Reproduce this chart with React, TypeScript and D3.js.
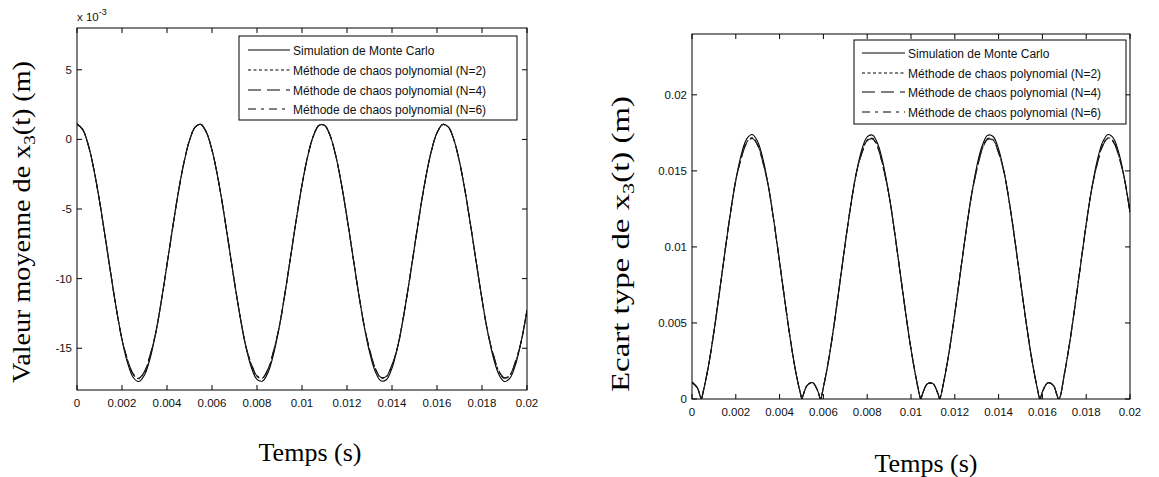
import React from "react";
import * as d3 from "d3";

// ---------- DATA ----------
// time grid for the mean plot (ms)
const timeMean: number[] = [
  0, 0.25, 0.5, 0.75, 1, 1.25, 1.5, 1.75, 2, 2.25,
  2.5, 2.75, 3, 3.25, 3.5, 3.75, 4, 4.25, 4.5, 4.75,
  5, 5.25, 5.5, 5.75, 6, 6.25, 6.5, 6.75, 7, 7.25,
  7.5, 7.75, 8, 8.25, 8.5, 8.75, 9, 9.25, 9.5, 9.75,
  10, 10.25, 10.5, 10.75, 11, 11.25, 11.5, 11.75, 12, 12.25,
  12.5, 12.75, 13, 13.25, 13.5, 13.75, 14, 14.25, 14.5, 14.75,
  15, 15.25, 15.5, 15.75, 16, 16.25, 16.5, 16.75, 17, 17.25,
  17.5, 17.75, 18, 18.25, 18.5, 18.75, 19, 19.25, 19.5, 19.75,
  20,
];
// mean of x3(t), units 1e-3 m
const meanMC: number[] = [
  1.10, 0.72, -0.40, -2.16, -4.41, -6.98, -9.64, -12.18, -14.38, -16.07,
  -17.10, -17.39, -16.92, -15.72, -13.89, -11.59, -9.00, -6.35, -3.84, -1.69,
  -0.07, 0.88, 1.08, 0.51, -0.77, -2.66, -5.01, -7.62, -10.27, -12.74,
  -14.84, -16.38, -17.24, -17.35, -16.70, -15.33, -13.38, -10.99, -8.36, -5.72,
  -3.28, -1.24, 0.22, 1.00, 1.01, 0.27, -1.17, -3.19, -5.62, -8.26,
  -10.89, -13.29, -15.27, -16.65, -17.34, -17.26, -16.43, -14.91, -12.84, -10.37,
  -7.72, -5.11, -2.75, -0.83, 0.47, 1.07, 0.90, -0.02, -1.61, -3.74,
  -6.24, -8.89, -11.49, -13.81, -15.66, -16.89, -17.39, -17.13, -16.13, -14.46,
  -12.27,
];
const meanN2: number[] = [
  1.10, 0.72, -0.40, -2.16, -4.41, -6.98, -9.64, -12.18, -14.38, -15.88,
  -16.90, -17.18, -16.72, -15.53, -13.89, -11.59, -9.00, -6.35, -3.84, -1.69,
  -0.07, 0.88, 1.08, 0.51, -0.77, -2.66, -5.01, -7.62, -10.27, -12.74,
  -14.84, -16.18, -17.03, -17.14, -16.50, -15.15, -13.38, -10.99, -8.36, -5.72,
  -3.28, -1.24, 0.22, 1.00, 1.01, 0.27, -1.17, -3.19, -5.62, -8.26,
  -10.89, -13.29, -15.09, -16.45, -17.13, -17.05, -16.23, -14.91, -12.84, -10.37,
  -7.72, -5.11, -2.75, -0.83, 0.47, 1.07, 0.90, -0.02, -1.61, -3.74,
  -6.24, -8.89, -11.49, -13.81, -15.47, -16.69, -17.18, -16.92, -15.94, -14.46,
  -12.27,
];
const meanN4: number[] = [
  1.10, 0.72, -0.40, -2.16, -4.41, -6.98, -9.64, -12.18, -14.38, -15.83,
  -16.84, -17.13, -16.67, -15.48, -13.89, -11.59, -9.00, -6.35, -3.84, -1.69,
  -0.07, 0.88, 1.08, 0.51, -0.77, -2.66, -5.01, -7.62, -10.27, -12.74,
  -14.84, -16.13, -16.98, -17.09, -16.45, -15.10, -13.38, -10.99, -8.36, -5.72,
  -3.28, -1.24, 0.22, 1.00, 1.01, 0.27, -1.17, -3.19, -5.62, -8.26,
  -10.89, -13.29, -15.04, -16.40, -17.08, -17.00, -16.18, -14.91, -12.84, -10.37,
  -7.72, -5.11, -2.75, -0.83, 0.47, 1.07, 0.90, -0.02, -1.61, -3.74,
  -6.24, -8.89, -11.49, -13.81, -15.43, -16.64, -17.13, -16.87, -15.89, -14.46,
  -12.27,
];
const meanN6: number[] = [
  1.10, 0.72, -0.40, -2.16, -4.41, -6.98, -9.64, -12.18, -14.38, -15.85,
  -16.86, -17.15, -16.69, -15.50, -13.89, -11.59, -9.00, -6.35, -3.84, -1.69,
  -0.07, 0.88, 1.08, 0.51, -0.77, -2.66, -5.01, -7.62, -10.27, -12.74,
  -14.84, -16.15, -17.00, -17.11, -16.47, -15.12, -13.38, -10.99, -8.36, -5.72,
  -3.28, -1.24, 0.22, 1.00, 1.01, 0.27, -1.17, -3.19, -5.62, -8.26,
  -10.89, -13.29, -15.06, -16.42, -17.10, -17.02, -16.20, -14.91, -12.84, -10.37,
  -7.72, -5.11, -2.75, -0.83, 0.47, 1.07, 0.90, -0.02, -1.61, -3.74,
  -6.24, -8.89, -11.49, -13.81, -15.44, -16.66, -17.15, -16.89, -15.91, -14.46,
  -12.27,
];

// time grid for the standard deviation plot (ms)
const timeStd: number[] = [
  0, 0.25, 0.426, 0.5, 0.75, 1, 1.25, 1.5, 1.75, 2,
  2.25, 2.5, 2.75, 3, 3.25, 3.5, 3.75, 4, 4.25, 4.5,
  4.75, 5, 5.013, 5.25, 5.5, 5.75, 5.867, 6, 6.25, 6.5,
  6.75, 7, 7.25, 7.5, 7.75, 8, 8.25, 8.5, 8.75, 9,
  9.25, 9.5, 9.75, 10, 10.25, 10.453, 10.5, 10.75, 11, 11.25,
  11.307, 11.5, 11.75, 12, 12.25, 12.5, 12.75, 13, 13.25, 13.5,
  13.75, 14, 14.25, 14.5, 14.75, 15, 15.25, 15.5, 15.75, 15.893,
  16, 16.25, 16.5, 16.75, 17, 17.25, 17.5, 17.75, 18, 18.25,
  18.5, 18.75, 19, 19.25, 19.5, 19.75, 20,
];
// standard deviation of x3(t), units 1e-3 m
const stdMC: number[] = [
  1.10, 0.72, 0, 0.40, 2.16, 4.41, 6.98, 9.64, 12.18, 14.38,
  16.07, 17.10, 17.39, 16.92, 15.72, 13.89, 11.59, 9.00, 6.35, 3.84,
  1.69, 0.07, 0, 0.88, 1.08, 0.51, 0, 0.77, 2.66, 5.01,
  7.62, 10.27, 12.74, 14.84, 16.38, 17.24, 17.35, 16.70, 15.33, 13.38,
  10.99, 8.36, 5.72, 3.28, 1.24, 0, 0.22, 1.00, 1.01, 0.27,
  0, 1.17, 3.19, 5.62, 8.26, 10.89, 13.29, 15.27, 16.65, 17.34,
  17.26, 16.43, 14.91, 12.84, 10.37, 7.72, 5.11, 2.75, 0.83, 0,
  0.47, 1.07, 0.90, 0, 1.61, 3.74, 6.24, 8.89, 11.49, 13.81,
  15.66, 16.89, 17.39, 17.13, 16.13, 14.46, 12.27,
];
const stdN2: number[] = [
  1.10, 0.72, 0, 0.40, 2.16, 4.41, 6.98, 9.64, 12.18, 14.38,
  15.88, 16.90, 17.18, 16.72, 15.53, 13.89, 11.59, 9.00, 6.35, 3.84,
  1.69, 0.07, 0, 0.88, 1.08, 0.51, 0, 0.77, 2.66, 5.01,
  7.62, 10.27, 12.74, 14.84, 16.18, 17.03, 17.14, 16.50, 15.15, 13.38,
  10.99, 8.36, 5.72, 3.28, 1.24, 0, 0.22, 1.00, 1.01, 0.27,
  0, 1.17, 3.19, 5.62, 8.26, 10.89, 13.29, 15.09, 16.45, 17.13,
  17.05, 16.23, 14.91, 12.84, 10.37, 7.72, 5.11, 2.75, 0.83, 0,
  0.47, 1.07, 0.90, 0, 1.61, 3.74, 6.24, 8.89, 11.49, 13.81,
  15.47, 16.69, 17.18, 16.92, 15.94, 14.46, 12.27,
];
const stdN4: number[] = [
  1.10, 0.72, 0, 0.40, 2.16, 4.41, 6.98, 9.64, 12.18, 14.38,
  15.83, 16.84, 17.13, 16.67, 15.48, 13.89, 11.59, 9.00, 6.35, 3.84,
  1.69, 0.07, 0, 0.88, 1.08, 0.51, 0, 0.77, 2.66, 5.01,
  7.62, 10.27, 12.74, 14.84, 16.13, 16.98, 17.09, 16.45, 15.10, 13.38,
  10.99, 8.36, 5.72, 3.28, 1.24, 0, 0.22, 1.00, 1.01, 0.27,
  0, 1.17, 3.19, 5.62, 8.26, 10.89, 13.29, 15.04, 16.40, 17.08,
  17.00, 16.18, 14.91, 12.84, 10.37, 7.72, 5.11, 2.75, 0.83, 0,
  0.47, 1.07, 0.90, 0, 1.61, 3.74, 6.24, 8.89, 11.49, 13.81,
  15.43, 16.64, 17.13, 16.87, 15.89, 14.46, 12.27,
];
const stdN6: number[] = [
  1.10, 0.72, 0, 0.40, 2.16, 4.41, 6.98, 9.64, 12.18, 14.38,
  15.85, 16.86, 17.15, 16.69, 15.50, 13.89, 11.59, 9.00, 6.35, 3.84,
  1.69, 0.07, 0, 0.88, 1.08, 0.51, 0, 0.77, 2.66, 5.01,
  7.62, 10.27, 12.74, 14.84, 16.15, 17.00, 17.11, 16.47, 15.12, 13.38,
  10.99, 8.36, 5.72, 3.28, 1.24, 0, 0.22, 1.00, 1.01, 0.27,
  0, 1.17, 3.19, 5.62, 8.26, 10.89, 13.29, 15.06, 16.42, 17.10,
  17.02, 16.20, 14.91, 12.84, 10.37, 7.72, 5.11, 2.75, 0.83, 0,
  0.47, 1.07, 0.90, 0, 1.61, 3.74, 6.24, 8.89, 11.49, 13.81,
  15.44, 16.66, 17.15, 16.89, 15.91, 14.46, 12.27,
];

const seriesNames: string[] = [
  "Simulation de Monte Carlo",
  "Méthode de chaos polynomial (N=2)",
  "Méthode de chaos polynomial (N=4)",
  "Méthode de chaos polynomial (N=6)",
];
const dashes: string[] = ["none", "3,2.5", "13,6", "8,5,3,5"];

const xTickValues: number[] = [0, 0.002, 0.004, 0.006, 0.008, 0.01, 0.012, 0.014, 0.016, 0.018, 0.02];
const xTickLabels: string[] = ["0", "0.002", "0.004", "0.006", "0.008", "0.01", "0.012", "0.014", "0.016", "0.018", "0.02"];
const meanTickValues: number[] = [5, 0, -5, -10, -15];
const meanTickLabels: string[] = ["5", "0", "-5", "-10", "-15"];
const stdTickValues: number[] = [0, 5, 10, 15, 20];
const stdTickLabels: string[] = ["0", "0.005", "0.01", "0.015", "0.02"];

// ---------- COMPONENTS ----------
type PanelProps = {
  id: string;
  left: number; right: number; top: number; bottom: number;
  yDomain: [number, number];
  yTicks: number[]; yLabels: string[];
  time: number[];
  series: number[][];
  xLabelY: number;
  yTitle: string;
  yTitleX: number; yTitleY: number; yTitleLen: number;
  xTitleX: number; xTitleY: number;
  legend: { x0: number; x1: number; y0: number; y1: number; rows: number[]; lx0: number; lx1: number; tx: number };
  exponent?: boolean;
};

const TICK_FONT = "'Liberation Sans', Arial, sans-serif";
const TITLE_FONT = "'Liberation Serif', 'Times New Roman', serif";

function Panel(p: PanelProps) {
  const x = d3.scaleLinear().domain([0, 0.02]).range([p.left, p.right]);
  const y = d3.scaleLinear().domain(p.yDomain).range([p.bottom, p.top]);
  const line = d3
    .line<number>()
    .x((_, i) => x(p.time[i] / 1000))
    .y((d) => y(d))
    .curve(d3.curveCatmullRom.alpha(0.5));
  const tl = 5;
  const clipId = "clip-" + p.id;
  const [sub0, sub1] = p.yTitle.split("|");
  return (
    <g>
      <defs>
        <clipPath id={clipId}>
          <rect x={p.left} y={p.top} width={p.right - p.left} height={p.bottom - p.top} />
        </clipPath>
      </defs>
      <g clipPath={`url(#${clipId})`}>
        {p.series.map((s, i) => (
          <path
            key={i}
            d={line(s) || ""}
            fill="none"
            stroke={i === 0 ? "#000" : "#1a1a1a"}
            strokeWidth={1.1}
            strokeDasharray={dashes[i]}
          />
        ))}
      </g>
      {/* ticks */}
      {xTickValues.map((v, i) => (
        <g key={"x" + i}>
          <line x1={x(v)} x2={x(v)} y1={p.bottom} y2={p.bottom - tl} stroke="#000" />
          <line x1={x(v)} x2={x(v)} y1={p.top} y2={p.top + tl} stroke="#000" />
          <text x={x(v)} y={p.xLabelY} textAnchor="middle" fontFamily={TICK_FONT} fontSize={11.5} fill="#111">
            {xTickLabels[i]}
          </text>
        </g>
      ))}
      {p.yTicks.map((v, i) => (
        <g key={"y" + i}>
          <line x1={p.left} x2={p.left + tl} y1={y(v)} y2={y(v)} stroke="#000" />
          <line x1={p.right} x2={p.right - tl} y1={y(v)} y2={y(v)} stroke="#000" />
          <text x={p.left - 5} y={y(v) + 4} textAnchor="end" fontFamily={TICK_FONT} fontSize={11.5} fill="#111">
            {p.yLabels[i]}
          </text>
        </g>
      ))}
      <rect x={p.left} y={p.top} width={p.right - p.left} height={p.bottom - p.top} fill="none" stroke="#000" strokeWidth={1} />
      {p.exponent && (
        <text x={p.left} y={p.top - 7} fontFamily={TICK_FONT} fontSize={11.5} fill="#111">
          x 10<tspan dy={-6} fontSize={9}>-3</tspan>
        </text>
      )}
      {/* legend */}
      <rect
        x={p.legend.x0}
        y={p.legend.y0}
        width={p.legend.x1 - p.legend.x0}
        height={p.legend.y1 - p.legend.y0}
        fill="#fff"
        stroke="#000"
        strokeWidth={1}
      />
      {seriesNames.map((n, i) => (
        <g key={"l" + i}>
          <line
            x1={p.legend.lx0}
            x2={p.legend.lx1}
            y1={p.legend.rows[i]}
            y2={p.legend.rows[i]}
            stroke="#000"
            strokeWidth={1.1}
            strokeDasharray={dashes[i]}
          />
          <text x={p.legend.tx} y={p.legend.rows[i] + 4.5} fontFamily={TICK_FONT} fontSize={12} fill="#111">
            {n}
          </text>
        </g>
      ))}
      {/* titles */}
      <text
        transform={`translate(${p.yTitleX},${p.yTitleY}) rotate(-90)`}
        textAnchor="middle"
        fontFamily={TITLE_FONT}
        fontSize={25}
        fill="#000"
        textLength={p.yTitleLen}
        lengthAdjust="spacingAndGlyphs"
      >
        {sub0}
        <tspan fontSize={17} dy={5}>3</tspan>
        <tspan dy={-5}>{sub1}</tspan>
      </text>
      <text x={p.xTitleX} y={p.xTitleY} textAnchor="middle" fontFamily={TITLE_FONT} fontSize={26} fill="#000">
        Temps (s)
      </text>
    </g>
  );
}

export default function App() {
  return (
    <svg
      width={1159}
      height={477}
      viewBox="0 0 1159 477"
      style={{ position: "absolute", left: 0, top: 0, background: "#fff" }}
    >
      <rect x={0} y={0} width={1159} height={477} fill="#fff" />
      <Panel
        id="mean"
        left={77}
        right={527}
        top={28}
        bottom={390}
        yDomain={[-18, 8]}
        yTicks={meanTickValues}
        yLabels={meanTickLabels}
        time={timeMean}
        series={[meanMC, meanN2, meanN4, meanN6]}
        xLabelY={407}
        yTitle={"Valeur moyenne de x|(t) (m)"}
        yTitleX={30}
        yTitleY={222}
        yTitleLen={322}
        xTitleX={310}
        xTitleY={461}
        legend={{ x0: 239, x1: 517, y0: 36, y1: 120, rows: [50, 70, 90, 109], lx0: 248, lx1: 290, tx: 293 }}
        exponent
      />
      <Panel
        id="std"
        left={692}
        right={1130}
        top={34}
        bottom={399}
        yDomain={[0, 24]}
        yTicks={stdTickValues}
        yLabels={stdTickLabels}
        time={timeStd}
        series={[stdMC, stdN2, stdN4, stdN6]}
        xLabelY={416}
        yTitle={"Ecart type de x|(t) (m)"}
        yTitleX={629}
        yTitleY={244}
        yTitleLen={296}
        xTitleX={926}
        xTitleY={472}
        legend={{ x0: 854, x1: 1126, y0: 40, y1: 124, rows: [53, 73, 92, 112], lx0: 862, lx1: 905, tx: 908 }}
      />
    </svg>
  );
}
